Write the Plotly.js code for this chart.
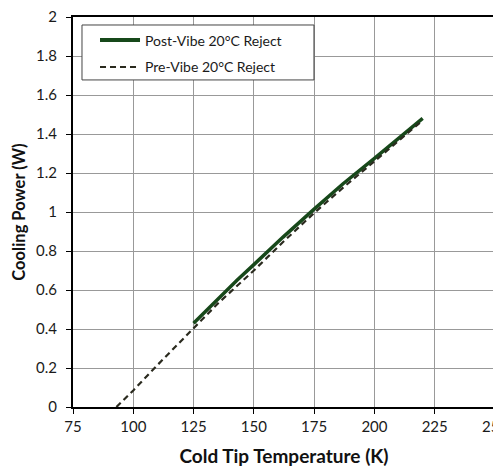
<!DOCTYPE html>
<html>
<head>
<meta charset="utf-8">
<script src="https://cdn.plot.ly/plotly-3.0.1.min.js"></script>
<style>html,body{margin:0;padding:0;overflow:hidden;background:#fff;width:493px;height:467px}</style>
</head>
<body>
<div id="chart"></div>
<script>
const postName = "Post-Vibe 20°C Reject";
const preName = "Pre-Vibe 20°C Reject";
const postX = [125, 135, 143, 150, 162, 175, 187, 200, 210, 220];
const postY = [0.43, 0.555, 0.65, 0.73, 0.87, 1.015, 1.145, 1.275, 1.375, 1.48];
const preX = [93, 100, 110, 125, 135, 150, 162, 175, 187, 200, 210, 220];
const preY = [0, 0.085, 0.215, 0.405, 0.53, 0.70, 0.845, 0.995, 1.125, 1.26, 1.365, 1.47];
const xTicks = [75, 100, 125, 150, 175, 200, 225, 250];
const yTicks = [0, 0.2, 0.4, 0.6, 0.8, 1, 1.2, 1.4, 1.6, 1.8, 2];

const font = "Lato, 'Open Sans', sans-serif";
const postColor = "#17481a";
const preColor = "#2a2a1e";
const preDash = "6px,4px";
const traces = [
  {x: postX, y: postY, name: postName, mode: "lines", showlegend: false,
   line: {color: postColor, width: 3.5}},
  {x: preX, y: preY, name: preName, mode: "lines", showlegend: false,
   line: {color: preColor, width: 2.2, dash: preDash}}
];

// legend drawn in paper coordinates
const legendShapes = [
  {type: "rect", xref: "paper", yref: "paper", x0: 0.0213, x1: 0.571, y0: 0.8386, y1: 0.9795,
   line: {color: "#444", width: 1}, fillcolor: "#fff", layer: "above"},
  {type: "line", xref: "paper", yref: "paper", x0: 0.064, x1: 0.1588, y0: 0.941, y1: 0.941,
   line: {color: postColor, width: 4}, layer: "above"},
  {type: "line", xref: "paper", yref: "paper", x0: 0.064, x1: 0.1588, y0: 0.8718, y1: 0.8718,
   line: {color: preColor, width: 2.2, dash: preDash}, layer: "above"}
];
const legendTexts = [
  {xref: "paper", yref: "paper", x: 0.1659, y: 0.941, xanchor: "left", yanchor: "middle",
   text: postName, showarrow: false, font: {family: font, size: 14, color: "#1a1a1a"}},
  {xref: "paper", yref: "paper", x: 0.1659, y: 0.8718, xanchor: "left", yanchor: "middle",
   text: preName, showarrow: false, font: {family: font, size: 14, color: "#1a1a1a"}}
];

const layout = {
  width: 500, height: 467,
  margin: {l: 73, r: 5, t: 17, b: 60},
  paper_bgcolor: "#fff", plot_bgcolor: "#fff",
  font: {family: font, size: 14, color: "#1a1a1a"},
  showlegend: false,
  shapes: legendShapes,
  annotations: legendTexts,
  xaxis: {range: [75, 250], tickvals: xTicks, ticktext: xTicks.map(String),
          showgrid: true, gridcolor: "#999", gridwidth: 1,
          showline: true, linecolor: "#000", linewidth: 2, mirror: true,
          ticks: "outside", ticklen: 5, tickcolor: "#000", zeroline: false,
          ticklabeloverflow: "allow", ticklabelstandoff: 0,
          tickfont: {family: font, size: 15, color: "#1a1a1a"},
          title: {text: "<b>Cold Tip Temperature (K)</b>", standoff: 16,
                  font: {family: font, size: 19, color: "#111"}}},
  yaxis: {range: [0, 2], tickvals: yTicks, ticktext: yTicks.map(String),
          showgrid: true, gridcolor: "#999", gridwidth: 1,
          showline: true, linecolor: "#000", linewidth: 2, mirror: false,
          ticks: "outside", ticklen: 5, tickcolor: "#000", zeroline: false,
          ticklabelstandoff: 6,
          tickfont: {family: font, size: 15, color: "#1a1a1a"},
          title: {text: "<b>Cooling Power (W)</b>", standoff: 6,
                  font: {family: font, size: 16.5, color: "#111"}}}
};
Plotly.newPlot("chart", traces, layout, {displayModeBar: false, staticPlot: true});
</script>
</body>
</html>
